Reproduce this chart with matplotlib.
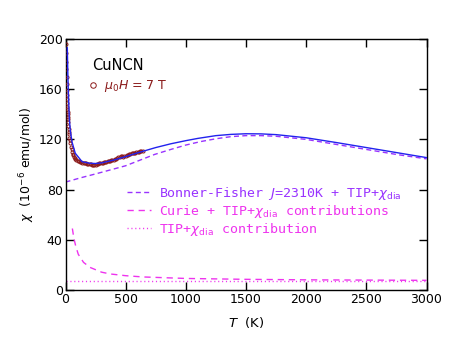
import matplotlib
matplotlib.use("Agg")
import matplotlib.pyplot as plt

# ---- data ----
T_data = [2, 3, 4, 5, 6, 7, 8, 9, 10, 11, 12, 13, 14, 15, 16, 17, 18, 19, 20,
          22, 24, 26, 28, 30, 33, 36, 40, 45, 50, 55, 60, 65, 70, 75, 80, 90,
          100, 110, 120, 130, 140, 150, 160, 170, 180, 190, 200, 210, 220, 230,
          240, 250, 260, 270, 280, 290, 300, 310, 320, 330, 340, 350, 360, 370,
          380, 390, 400, 410, 420, 430, 440, 450, 460, 470, 480, 490, 500, 510,
          520, 530, 540, 550, 560, 570, 580, 590, 600, 610, 620, 630, 640]
chi_data = [230, 212, 203, 196, 189, 182, 176, 170, 164, 159, 155, 152, 149,
            146, 144, 142, 140, 138, 136, 133.5, 131, 128, 126, 124, 121.5,
            119.5, 117, 114, 112, 110, 108.5, 107.3, 106, 105.2, 104.5, 103.5,
            103, 102.5, 102, 101.7, 101.5, 101.2, 101, 100.8, 100.5, 100.4,
            100.3, 100.1, 100, 99.8, 99.7, 100, 100.4, 100.6, 100.8, 101,
            101.2, 101.4, 101.6, 102, 102.3, 102.5, 102.8, 103, 103.2, 103.5,
            103.9, 104.2, 104.6, 105, 105.6, 106.2, 106.6, 106.4, 106.2, 106.6,
            107.1, 107.4, 107.8, 108.2, 108.6, 108.9, 109.1, 109.2, 109.4,
            109.7, 110, 110.2, 110.5, 110.8, 111]

T_fit = [15, 20, 25, 32, 40, 54, 81, 137, 200, 250, 300, 400, 500, 600, 750,
         875, 1000, 1100, 1250, 1375, 1500, 1625, 1750, 2000, 2250, 2500, 2750,
         3000]
chi_fit = [193, 170, 154, 136, 127, 118, 109, 102.3, 101, 100.8, 101.3, 103.5,
           106.3, 109.3, 113.5, 116.5, 119, 120.8, 123, 124, 124.5, 124.4,
           123.8, 121.3, 117.5, 113.5, 109.5, 105.5]

T_bf = [0, 130, 250, 500, 740, 875, 1000, 1125, 1250, 1375, 1500, 1625, 1750,
        2000, 2250, 2500, 2750, 3000]
chi_bf = [86, 89.5, 92.5, 99, 108, 112, 115.5, 118.3, 120.5, 122.2, 123, 123,
          122.5, 120, 116, 112, 108, 104.5]

T_curie = [57, 70, 85, 106, 150, 204, 300, 370, 500, 644, 1000, 1500, 2000, 2500, 3000]
chi_curie = [49, 41, 35, 28.5, 22, 18, 14.2, 12.8, 11.4, 10.4, 9.2, 8.5, 8.1, 7.9, 7.7]

T_tip = [0, 3000]
chi_tip = [7.2, 7.2]

xticks = [0, 500, 1000, 1500, 2000, 2500, 3000]
yticks = [0, 40, 80, 120, 160, 200]

c_data = "#8b1a1a"
c_blue = "#2222ee"
c_purple = "#9933ff"
c_mag = "#ee33ee"

plt.rcParams['mathtext.fontset'] = 'dejavusans'

fig = plt.figure(figsize=(4.58, 3.54), dpi=100)
ax = fig.add_axes([65.5/458, 1-290/354, 361/458, 251/354])

l_data, = ax.plot(T_data, chi_data, 'o', ms=2.2, mfc='none', mec=c_data,
                  mew=0.7, zorder=3)
ax.plot(T_fit, chi_fit, '-', color=c_blue, lw=1.0, zorder=4)
l_bf, = ax.plot(T_bf, chi_bf, color=c_purple, lw=1.0, dashes=(3.6, 2.4))
l_cu, = ax.plot(T_curie, chi_curie, color=c_mag, lw=1.0, dashes=(4.5, 3.5))
l_tip, = ax.plot(T_tip, chi_tip, color=c_mag, lw=1.0, dashes=(0.8, 2.0))

ax.set_xlim(0, 3000)
ax.set_ylim(0, 200)
ax.set_xticks(xticks)
ax.set_yticks(yticks)
ax.tick_params(direction='in', length=6, width=1, top=True, right=True,
               labelsize=9, pad=2)
for s in ax.spines.values():
    s.set_linewidth(1.0)

ax.set_xlabel(r'$T$  (K)', fontsize=9.5, labelpad=7)
ax.set_ylabel(r'$\chi$  (10$^{-6}$ emu/mol)', fontsize=9, labelpad=1)

ax.text(0.075, 0.895, 'CuNCN', transform=ax.transAxes, fontsize=10.5,
        va='center', ha='left')

leg2 = ax.legend([l_data], [r'$\mu_0H$ = 7 T'], loc='upper left',
                 bbox_to_anchor=(0.068, 0.845), frameon=False, fontsize=9,
                 handlelength=0.5, handletextpad=0.6, borderpad=0,
                 borderaxespad=0, labelcolor=c_data, markerscale=1.8)
ax.add_artist(leg2)

leg = ax.legend([l_bf, l_cu, l_tip],
                [r'Bonner-Fisher $J$=2310K + TIP+$\chi_{\rm dia}$',
                 r'Curie + TIP+$\chi_{\rm dia}$ contributions',
                 r'TIP+$\chi_{\rm dia}$ contribution'],
                loc='upper left', bbox_to_anchor=(0.17, 0.42), frameon=False,
                prop={'family': 'DejaVu Sans Mono', 'size': 9.5},
                handlelength=1.8, handletextpad=0.6, borderpad=0,
                borderaxespad=0, labelspacing=0.08,
                labelcolor=[c_purple, c_mag, c_mag])

fig.savefig('out.png', dpi=100)
